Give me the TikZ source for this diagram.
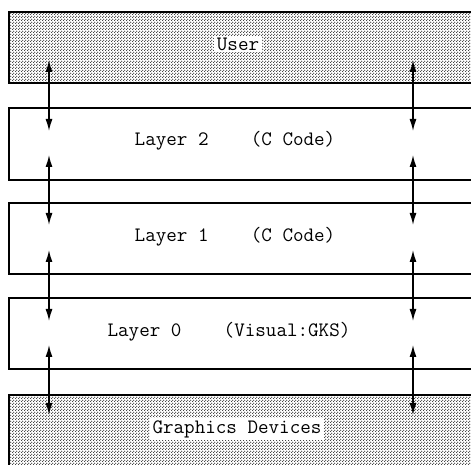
\documentclass[tikz,border=0pt]{standalone}
\usetikzlibrary{arrows.meta,patterns.meta}
\tikzdeclarepattern{
  name=screendots, type=uncolored,
  bounding box={(0pt,0pt) and (3pt,3pt)},
  tile size={(3pt,3pt)},
  code={
    \fill (0.75pt,0.75pt) circle (0.8pt);
    \fill (2.25pt,2.25pt) circle (0.8pt);
  }
}
\tikzset{
  layerbox/.style={draw=black, line width=1.6pt, minimum width=490pt, anchor=north west, inner sep=0pt},
  shaded/.style={layerbox, pattern=screendots, pattern color=black!80},
  txt/.style={font=\ttfamily\fontsize{20.5}{23}\selectfont, inner sep=2pt},
  wtxt/.style={txt, fill=white, inner xsep=3pt, inner ysep=2pt},
  link/.style={line width=1.4pt, {Latex[length=12pt,width=7pt]}-{Latex[length=12pt,width=7pt]}}
}
\begin{document}
\begin{tikzpicture}[x=1pt,y=1pt]
\useasboundingbox (0,0) rectangle (471,465);
\begin{scope}
\clip (0,0) rectangle (471,465);
\node[shaded, minimum height=71pt] (user) at (8,454) {};
\node[layerbox, minimum height=72pt] (l2) at (8,358) {};
\node[layerbox, minimum height=71pt] (l1) at (8,263) {};
\node[layerbox, minimum height=71pt] (l0) at (8,168) {};
\node[shaded, minimum height=72pt] (gd) at (8,71) {};
\end{scope}
\node[wtxt] (usert) at (238,421) {User};
\node[txt] (l2t) at (235,324) {Layer 2\ \ \ \ (C Code)};
\node[txt] (l1t) at (235,228) {Layer 1\ \ \ \ (C Code)};
\node[txt] (l0t) at (229,133) {Layer 0\ \ \ \ (Visual:GKS)};
\node[wtxt] (gdt) at (237,36) {Graphics Devices};
% arrow end points
\coordinate (a1) at (49,405); \coordinate (a2) at (49,334);
\coordinate (b1) at (49,310); \coordinate (b2) at (49,240);
\coordinate (c1) at (49,215); \coordinate (c2) at (49,144);
\coordinate (d1) at (49,120); \coordinate (d2) at (49,50);
\coordinate (e1) at (413,405); \coordinate (e2) at (413,334);
\coordinate (f1) at (413,310); \coordinate (f2) at (413,240);
\coordinate (g1) at (413,215); \coordinate (g2) at (413,144);
\coordinate (h1) at (413,120); \coordinate (h2) at (413,50);
\draw[link] (a1) -- (a2);
\draw[link] (b1) -- (b2);
\draw[link] (c1) -- (c2);
\draw[link] (d1) -- (d2);
\draw[link] (e1) -- (e2);
\draw[link] (f1) -- (f2);
\draw[link] (g1) -- (g2);
\draw[link] (h1) -- (h2);
\end{tikzpicture}
\end{document}
